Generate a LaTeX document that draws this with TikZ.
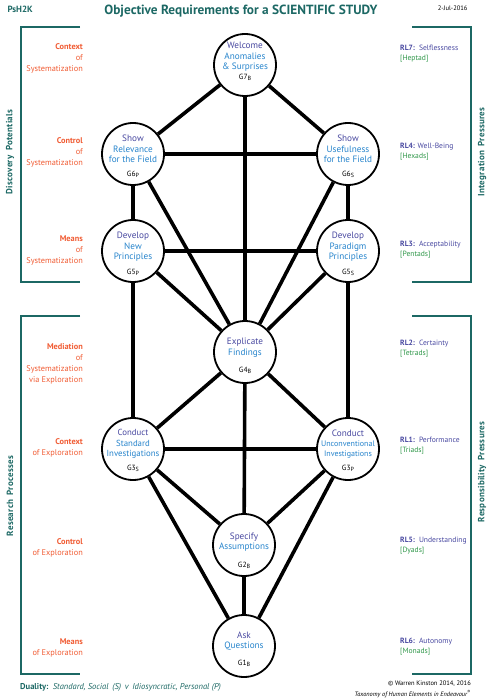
\documentclass[tikz,border=0pt]{standalone}
\usepackage{fontspec}
\setmainfont{PT Sans}
\usetikzlibrary{positioning}
\definecolor{psteal}{RGB}{28,104,100}
\definecolor{psorange}{RGB}{240,92,52}
\definecolor{pspurple}{RGB}{72,72,160}
\definecolor{psblue}{RGB}{38,132,204}
\definecolor{psgreen}{RGB}{46,150,72}
\newcommand{\gsub}[1]{\raisebox{-0.3ex}{\fontsize{6}{6}\selectfont #1}}
\begin{document}
\begin{tikzpicture}[x=1pt,y=-1pt,
	sephira/.style={circle,draw,line width=1.8pt,fill=white,minimum size=62pt,inner sep=0pt},
	gtext/.style={align=center,inner sep=0pt,font=\fontsize{9.2}{10.6}\selectfont},
	gid/.style={inner sep=0pt,font=\fontsize{7.5}{8}\selectfont},
	path/.style={line width=3.6pt},
	bracket/.style={draw=psteal,line width=1.8pt},
	side/.style={rotate=90,text=psteal,font=\fontsize{9}{11}\bfseries\addfontfeature{LetterSpace=3}},
	lefttext/.style={anchor=east,align=right,text=psorange,inner sep=0pt,font=\fontsize{8.3}{11}\selectfont},
	righttext/.style={anchor=west,align=left,inner sep=0pt,font=\fontsize{7.6}{10}\selectfont}]
	\useasboundingbox (0,0) rectangle (490,700);
	% header
	\node [anchor=west,text=psteal,font=\fontsize{9}{10}\bfseries] (code) at (4,9) {PsH2K};
	\node [text=psteal,font=\fontsize{13.3}{14}\bfseries] (title) at (241,11) {Objective Requirements for a SCIENTIFIC STUDY};
	\node [anchor=east,font=\fontsize{6.5}{7}\selectfont] (date) at (471,8) {2-Jul-2016};
	% brackets
	\node [coordinate] (DPa) at (80,27) {};
	\node [coordinate] (DPb) at (21,27) {};
	\node [coordinate] (DPc) at (21,282) {};
	\node [coordinate] (DPd) at (80,282) {};
	\node [coordinate] (RPa) at (80,316) {};
	\node [coordinate] (RPb) at (21,316) {};
	\node [coordinate] (RPc) at (21,674) {};
	\node [coordinate] (RPd) at (80,674) {};
	\node [coordinate] (IPa) at (412,27) {};
	\node [coordinate] (IPb) at (471,27) {};
	\node [coordinate] (IPc) at (471,282) {};
	\node [coordinate] (IPd) at (412,282) {};
	\node [coordinate] (SPa) at (412,316) {};
	\node [coordinate] (SPb) at (471,316) {};
	\node [coordinate] (SPc) at (471,674) {};
	\node [coordinate] (SPd) at (412,674) {};
	\draw [bracket] (DPa) -- (DPb) -- (DPc) -- (DPd);
	\draw [bracket] (RPa) -- (RPb) -- (RPc) -- (RPd);
	\draw [bracket] (IPa) -- (IPb) -- (IPc) -- (IPd);
	\draw [bracket] (SPa) -- (SPb) -- (SPc) -- (SPd);
	\node [side] (dpot) at (10,152) {Discovery\enspace Potentials};
	\node [side] (rproc) at (10,496) {Research\enspace Processes};
	\node [side] (ipres) at (482,152) {Integration\enspace Pressures};
	\node [side] (spres) at (482,472) {Responsibility\enspace Pressures};
	% sephiroth
	\node [sephira] (g7) at (245,65) {};
	\node [sephira] (g6p) at (133,154) {};
	\node [sephira] (g6s) at (348,154) {};
	\node [sephira] (g5p) at (133,251) {};
	\node [sephira] (g5s) at (348,251) {};
	\node [sephira] (g4) at (245,352) {};
	\node [sephira] (g3s) at (133,449) {};
	\node [sephira] (g3p) at (348,449) {};
	\node [sephira] (g2) at (244,545) {};
	\node [sephira] (g1) at (244,646) {};
	% paths
	\draw [path] (g7) -- (g6p);
	\draw [path] (g7) -- (g6s);
	\draw [path] (g7) -- (g4);
	\draw [path] (g6p) -- (g6s);
	\draw [path] (g6p) -- (g5p);
	\draw [path] (g6s) -- (g5s);
	\draw [path] (g6p) -- (g4);
	\draw [path] (g6s) -- (g4);
	\draw [path] (g5p) -- (g5s);
	\draw [path] (g5p) -- (g4);
	\draw [path] (g5s) -- (g4);
	\draw [path] (g5p) -- (g3s);
	\draw [path] (g5s) -- (g3p);
	\draw [path] (g4) -- (g3s);
	\draw [path] (g4) -- (g3p);
	\draw [path] (g3s) -- (g3p);
	\draw [path] (g4) -- (g2);
	\draw [path] (g3s) -- (g2);
	\draw [path] (g3p) -- (g2);
	\draw [path] (g3s) -- (g1);
	\draw [path] (g3p) -- (g1);
	\draw [path] (g2) -- (g1);
	% texts in the circles
	\node [gtext] (g7t) at ([yshift=8pt]g7.center) {\textcolor{pspurple}{Welcome}\\\textcolor{psblue}{Anomalies}\\\textcolor{psblue}{\& Surprises}};
	\node [gtext] (g6pt) at ([yshift=5pt]g6p.center) {\textcolor{pspurple}{Show}\\\textcolor{psblue}{Relevance}\\\textcolor{psblue}{for the Field}};
	\node [gtext] (g6st) at ([yshift=5pt]g6s.center) {\textcolor{pspurple}{Show}\\\textcolor{psblue}{Usefulness}\\\textcolor{psblue}{for the Field}};
	\node [gtext] (g5pt) at ([yshift=4pt]g5p.center) {\textcolor{pspurple}{Develop}\\\textcolor{psblue}{New}\\\textcolor{psblue}{Principles}};
	\node [gtext] (g5st) at ([yshift=4pt]g5s.center) {\textcolor{pspurple}{Develop}\\\textcolor{psblue}{Paradigm}\\\textcolor{psblue}{Principles}};
	\node [gtext] (g4t) at ([yshift=4pt]g4.center) {\textcolor{pspurple}{Explicate}\\\textcolor{psblue}{Findings}};
	\node [gtext,font=\fontsize{8.8}{10.4}\selectfont] (g3st) at ([yshift=5pt]g3s.center) {\textcolor{pspurple}{Conduct}\\\textcolor{psblue}{Standard}\\\textcolor{psblue}{Investigations}};
	\node [gtext,font=\fontsize{8}{10.4}\selectfont] (g3pt) at ([yshift=5pt]g3p.center) {\textcolor{pspurple}{\fontsize{9.2}{10.4}\selectfont Conduct}\\\textcolor{psblue}{Unconventional}\\\textcolor{psblue}{Investigations}};
	\node [gtext] (g2t) at ([yshift=3pt]g2.center) {\textcolor{pspurple}{Specify}\\\textcolor{psblue}{Assumptions}};
	\node [gtext] (g1t) at ([yshift=5pt]g1.center) {\textcolor{pspurple}{Ask}\\\textcolor{psblue}{Questions}};
	\node [gid] (g7i) at ([yshift=-12pt]g7.center) {G7\gsub{B}};
	\node [gid] (g6pi) at ([yshift=-20pt]g6p.center) {G6\gsub{P}};
	\node [gid] (g6si) at ([yshift=-20pt]g6s.center) {G6\gsub{S}};
	\node [gid] (g5pi) at ([yshift=-21pt]g5p.center) {G5\gsub{P}};
	\node [gid] (g5si) at ([yshift=-21pt]g5s.center) {G5\gsub{S}};
	\node [gid] (g4i) at ([yshift=-18pt]g4.center) {G4\gsub{B}};
	\node [gid] (g3si) at ([yshift=-19pt]g3s.center) {G3\gsub{S}};
	\node [gid] (g3pi) at ([yshift=-19pt]g3p.center) {G3\gsub{P}};
	\node [gid] (g2i) at ([yshift=-20pt]g2.center) {G2\gsub{B}};
	\node [gid] (g1i) at ([yshift=-17pt]g1.center) {G1\gsub{B}};
	% left labels
	\node [lefttext] (lev7) at (83,58) {\textbf{Context}\\of\\Systematization};
	\node [lefttext] (lev6) at (83,152) {\textbf{Control}\\of\\Systematization};
	\node [lefttext] (lev5) at (83,250) {\textbf{Means}\\of\\Systematization};
	\node [lefttext] (lev4) at (83,364) {\textbf{Mediation}\\of\\Systematization\\via Exploration};
	\node [lefttext] (lev3) at (83,448) {\textbf{Context}\\of Exploration};
	\node [lefttext] (lev2) at (83,548) {\textbf{Control}\\of Exploration};
	\node [lefttext] (lev1) at (83,648) {\textbf{Means}\\of Exploration};
	% right labels
	\node [righttext] (rl7) at (400,54) {\textcolor{pspurple}{\textbf{RL7:}\, Selflessness}\\\textcolor{psgreen}{[Heptad]}};
	\node [righttext] (rl4) at (400,152) {\textcolor{pspurple}{\textbf{RL4:} Well-Being}\\\textcolor{psgreen}{[Hexads]}};
	\node [righttext] (rl3) at (400,250) {\textcolor{pspurple}{\textbf{RL3:}\, Acceptability}\\\textcolor{psgreen}{[Pentads]}};
	\node [righttext] (rl2) at (400,349) {\textcolor{pspurple}{\textbf{RL2:}\, Certainty}\\\textcolor{psgreen}{[Tetrads]}};
	\node [righttext] (rl1) at (400,446) {\textcolor{pspurple}{\textbf{RL1:}\, Performance}\\\textcolor{psgreen}{[Triads]}};
	\node [righttext] (rl5) at (400,546) {\textcolor{pspurple}{\textbf{RL5:}\, Understanding}\\\textcolor{psgreen}{[Dyads]}};
	\node [righttext] (rl6) at (400,647) {\textcolor{pspurple}{\textbf{RL6:}\, Autonomy}\\\textcolor{psgreen}{[Monads]}};
	% footer
	\node [anchor=west,text=psteal,inner sep=0pt,font=\fontsize{8.5}{10}\selectfont] (duality) at (20,687) {\textbf{Duality:}\, \textit{Standard, Social\, (S)\, v\, Idiosyncratic, Personal (P)}};
	\node [anchor=east,inner sep=0pt,font=\fontsize{6.5}{7}\selectfont] (copy) at (471,684) {© Warren Kinston 2014, 2016};
	\node [anchor=east,inner sep=0pt,font=\fontsize{6.3}{7}\itshape] (taxo) at (471,694) {Taxonomy of Human Elements in Endeavour\textsuperscript{®}};
\end{tikzpicture}
\end{document}
